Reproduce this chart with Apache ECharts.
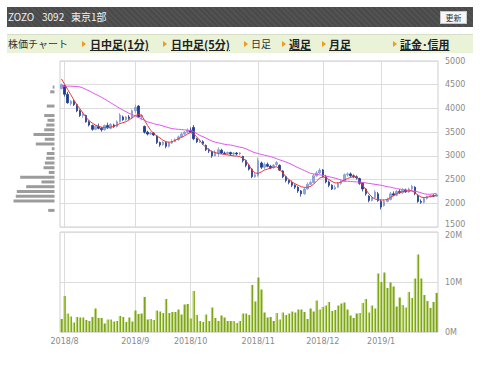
<!DOCTYPE html>
<html><head><meta charset="utf-8">
<script src="https://cdn.jsdelivr.net/npm/echarts@6/dist/echarts.min.js"></script>
<style>
html,body{margin:0;padding:0;background:#fff;width:480px;height:365px;overflow:hidden;font-family:'Noto Sans CJK JP','Noto Sans',sans-serif;}
#chart{position:absolute;left:0;top:0;width:480px;height:365px;}
.abs{position:absolute;white-space:nowrap;}
#hdr{left:7px;top:7px;width:466px;height:20px;background:repeating-linear-gradient(45deg,#4a4a4a 0,#4a4a4a 2px,#525252 2px,#525252 4px);}
.ht{color:#f2f2f2;font-size:10px;top:10px;line-height:14px;}
#btn{left:440px;top:11px;width:25px;height:11px;background:#f6f6f6;border:1px solid #c8c8c8;font-size:8px;line-height:11px;text-align:center;color:#333;}
#tab{left:7px;top:34px;width:466px;height:18px;background:#eaf3d8;border-top:1px solid #d6dfc6;}
.tt{top:35px;line-height:18px;font-size:10px;color:#333;}
.tl{font-weight:bold;font-size:11px;color:#222;text-decoration:underline;}
.tri{top:41px;width:0;height:0;border-left:4px solid #f29a1c;border-top:3px solid transparent;border-bottom:3px solid transparent;}
</style></head>
<body>
<div id="chart"></div>
<div id="hdr" class="abs"></div>
<div class="abs ht" style="left:8px">ZOZO</div>
<div class="abs ht" style="left:42px">3092</div>
<div class="abs ht" style="left:71px">東京1部</div>
<div id="btn" class="abs">更新</div>
<div id="tab" class="abs"></div>
<div class="abs tt" style="left:8px">株価チャート</div>
<div class="abs tri" style="left:82px"></div>
<div class="abs tt tl" style="left:90px">日中足(1分)</div>
<div class="abs tri" style="left:163px"></div>
<div class="abs tt tl" style="left:171px">日中足(5分)</div>
<div class="abs tri" style="left:244px"></div>
<div class="abs tt" style="left:251px">日足</div>
<div class="abs tri" style="left:282px"></div>
<div class="abs tt tl" style="left:289px">週足</div>
<div class="abs tri" style="left:322px"></div>
<div class="abs tt tl" style="left:329px">月足</div>
<div class="abs tri" style="left:393px"></div>
<div class="abs tt tl" style="left:400px">証金･信用</div>
<script>
const dates = [
'2018/07/31',
'2018/08/01','2018/08/02','2018/08/03','2018/08/06','2018/08/07','2018/08/08','2018/08/09','2018/08/10','2018/08/13','2018/08/14','2018/08/15','2018/08/16','2018/08/17','2018/08/20','2018/08/21','2018/08/22','2018/08/23','2018/08/24','2018/08/27','2018/08/28','2018/08/29','2018/08/30','2018/08/31',
'2018/09/03','2018/09/04','2018/09/05','2018/09/06','2018/09/07','2018/09/10','2018/09/11','2018/09/12','2018/09/13','2018/09/14','2018/09/18','2018/09/19','2018/09/20','2018/09/21','2018/09/25','2018/09/26','2018/09/27','2018/09/28',
'2018/10/01','2018/10/02','2018/10/03','2018/10/04','2018/10/05','2018/10/09','2018/10/10','2018/10/11','2018/10/12','2018/10/15','2018/10/16','2018/10/17','2018/10/18','2018/10/19','2018/10/22','2018/10/23','2018/10/24','2018/10/25','2018/10/26','2018/10/29','2018/10/30','2018/10/31',
'2018/11/01','2018/11/02','2018/11/05','2018/11/06','2018/11/07','2018/11/08','2018/11/09','2018/11/12','2018/11/13','2018/11/14','2018/11/15','2018/11/16','2018/11/19','2018/11/20','2018/11/21','2018/11/22','2018/11/26','2018/11/27','2018/11/28','2018/11/29','2018/11/30',
'2018/12/03','2018/12/04','2018/12/05','2018/12/06','2018/12/07','2018/12/10','2018/12/11','2018/12/12','2018/12/13','2018/12/14','2018/12/17','2018/12/18','2018/12/19','2018/12/20','2018/12/21','2018/12/25','2018/12/26','2018/12/27','2018/12/28',
'2019/01/04','2019/01/07','2019/01/08','2019/01/09','2019/01/10','2019/01/11','2019/01/15','2019/01/16','2019/01/17','2019/01/18','2019/01/21','2019/01/22','2019/01/23','2019/01/24','2019/01/25','2019/01/28','2019/01/29','2019/01/30','2019/01/31'
];
const opens = [
4420,4480,4300,4100,4150,4080,3950,3850,3850,3720,
3640,3560,3620,3580,3550,3640,3580,3650,3620,3720,
3820,3760,3820,3800,3950,4050,3820,3620,3500,3460,
3480,3420,3280,3240,3280,3200,3270,3300,3340,3400,
3460,3500,3540,3600,3360,3300,3300,3220,3130,3090,
3000,3060,3120,3060,3050,3070,3040,3060,3040,2990,
2900,2800,2720,2560,2580,2850,2760,2820,2780,2750,
2820,2800,2680,2560,2480,2440,2380,2340,2260,2200,
2300,2400,2440,2580,2640,2700,2560,2450,2380,2300,
2340,2420,2460,2600,2620,2580,2560,2520,2420,2300,
2150,2060,2120,2200,2040,1950,2040,2080,2200,2170,
2250,2220,2280,2240,2300,2340,2160,2040,2020,2100,
2140,2160,2150];
const closes = [
4500,4300,4120,4150,4080,3950,3850,3880,3720,3650,
3560,3620,3580,3550,3640,3590,3660,3620,3720,3860,
3760,3820,3790,3950,4020,3820,3850,3500,3460,3480,
3440,3280,3230,3290,3200,3270,3300,3340,3400,3460,
3500,3540,3500,3360,3300,3320,3260,3130,3100,3000,
3080,3130,3060,3050,3070,3040,3060,3040,3060,2900,
2800,2720,2560,2600,2900,2760,2820,2780,2750,2800,
2860,2700,2560,2480,2440,2380,2340,2260,2200,2300,
2400,2440,2580,2640,2700,2560,2450,2380,2300,2340,
2420,2460,2600,2620,2580,2560,2540,2420,2300,2200,
2060,2120,2240,2060,1920,2040,2080,2200,2170,2250,
2220,2290,2240,2300,2360,2200,2040,2020,2100,2140,
2160,2150,2180];
const lows = [
4400,4250,4100,4060,4050,3920,3820,3800,3700,3620,
3530,3540,3560,3510,3530,3570,3560,3590,3600,3700,
3740,3740,3760,3790,3900,3800,3750,3470,3430,3440,
3420,3250,3190,3210,3160,3180,3250,3290,3320,3380,
3430,3470,3480,3330,3270,3270,3230,3100,3060,2960,
2990,2980,3040,3030,3020,3000,2990,3010,3010,2860,
2760,2690,2530,2540,2560,2720,2720,2760,2720,2730,
2780,2680,2530,2440,2400,2340,2300,2220,2140,2180,
2290,2380,2420,2560,2620,2540,2420,2340,2280,2280,
2320,2390,2450,2560,2550,2530,2500,2390,2250,2160,
2020,2040,2100,2030,1870,1930,2020,2060,2150,2150,
2200,2200,2220,2220,2280,2170,2010,1990,2000,2080,
2120,2130,2140];
const highs = [
4520,4500,4350,4180,4180,4100,3980,3920,3870,3750,
3660,3650,3680,3610,3660,3700,3690,3680,3750,3900,
3850,3840,3860,3980,4080,4070,3880,3640,3530,3510,
3500,3430,3300,3310,3300,3300,3350,3370,3430,3500,
3520,3580,3600,3650,3380,3350,3330,3240,3160,3110,
3120,3180,3150,3090,3090,3090,3080,3080,3080,3000,
2920,2830,2740,2650,2960,2880,2860,2860,2810,2830,
2890,2820,2700,2580,2500,2480,2400,2360,2280,2330,
2440,2480,2620,2680,2740,2720,2600,2480,2400,2380,
2450,2500,2630,2650,2650,2610,2590,2540,2440,2320,
2170,2160,2280,2240,2080,2080,2120,2240,2250,2280,
2300,2320,2310,2330,2390,2360,2180,2080,2120,2160,
2180,2190,2200];
const maShort = [
4620,4510,4400,4290,4180,4075,3990,3900,3810,3740,
3690,3650,3625,3605,3595,3595,3605,3620,3650,3680,
3700,3720,3760,3800,3850,3870,3860,3750,3640,3540,
3470,3420,3380,3330,3300,3285,3300,3330,3360,3390,
3420,3460,3490,3460,3400,3320,3240,3180,3120,3090,
3070,3050,3040,3030,3020,3010,3000,2995,2985,2950,
2900,2800,2700,2640,2630,2660,2700,2720,2740,2760,
2770,2720,2640,2560,2500,2450,2410,2380,2350,2335,
2340,2355,2400,2470,2530,2560,2540,2500,2460,2430,
2430,2450,2490,2520,2545,2560,2550,2480,2380,2290,
2200,2130,2090,2075,2070,2070,2080,2120,2160,2200,
2230,2245,2255,2260,2265,2220,2175,2130,2120,2130,
2140,2155,2170];
const maLong = [
4470,4470,4470,4470,4465,4460,4455,4430,4400,4370,
4335,4300,4270,4235,4200,4160,4120,4080,4040,4000,
3965,3930,3895,3870,3840,3810,3780,3750,3715,3700,
3680,3660,3650,3630,3610,3590,3575,3565,3560,3555,
3548,3542,3530,3510,3470,3430,3405,3375,3340,3310,
3290,3275,3260,3245,3235,3228,3215,3200,3185,3172,
3150,3120,3090,3065,3050,3030,3015,3000,2985,2965,
2940,2915,2895,2870,2845,2815,2780,2750,2720,2690,
2660,2630,2620,2610,2600,2590,2575,2560,2545,2530,
2510,2490,2470,2465,2460,2455,2450,2445,2440,2430,
2420,2410,2400,2390,2380,2365,2350,2340,2325,2310,
2300,2290,2280,2270,2260,2255,2240,2220,2200,2190,
2190,2200,2210];
const volumes = [
2.6,7.2,3.7,3.1,1.9,3.0,2.9,2.9,2.4,2.2,3.0,4.7,2.8,2.8,1.7,2.5,2.5,2.1,2.2,3.2,3.0,2.0,2.9,2.1,
4.3,3.6,3.7,7.0,2.5,2.6,2.4,4.3,4.1,3.8,6.6,3.8,4.0,4.0,4.5,3.5,5.5,5.6,
2.7,8.2,3.4,2.2,2.0,3.5,2.2,4.9,2.8,2.2,3.3,2.9,2.2,2.2,2.2,1.8,2.2,3.7,3.7,3.4,9.4,6.1,
10.9,8.5,3.9,2.9,3.0,2.2,3.8,2.5,3.9,3.4,3.7,4.1,3.9,4.5,4.5,4.0,2.6,4.7,4.1,6.3,4.5,
5.0,5.3,6.0,4.2,4.4,5.3,5.7,5.9,4.5,3.3,2.8,3.7,3.8,5.8,6.6,3.9,5.3,4.7,11.7,
10.0,11.9,8.8,9.9,9.1,5.1,6.9,5.4,4.9,8.0,6.8,10.7,15.5,10.7,7.4,6.2,4.8,6.0,7.8];
const priceBins = [
'1500-1600','1600-1700','1700-1800','1800-1900','1900-2000','2000-2100','2100-2200','2200-2300','2300-2400','2400-2500',
'2500-2600','2600-2700','2700-2800','2800-2900','2900-3000','3000-3100','3100-3200','3200-3300','3300-3400','3400-3500',
'3500-3600','3600-3700','3700-3800','3800-3900','3900-4000','4000-4100','4100-4200','4200-4300','4300-4400','4400-4500',
'4500-4600','4600-4700','4700-4800','4800-4900','4900-5000'];
const binVolumes = [
0,0,0,6.3,0,41,38.7,37.7,28.3,13,
34.3,5.7,11,9.7,8.3,7.7,2.7,18.7,9.7,21,
10.3,8.3,7,10.3,0,7.7,0,0,4.3,1.8,
0,0,0,0,0];
const priceTicks = {min:1500, max:5000, interval:500};
const volumeTicks = {min:0, max:20, interval:10};

const candles = dates.map((d,i)=>[opens[i],closes[i],lows[i],highs[i]]);
const isMonthStart = (idx) => idx > 0 && dates[idx].slice(0,7) !== dates[idx-1].slice(0,7);
const monthLabel = (v) => { const p = v.split('/'); return p[0] + '/' + (+p[1]); };
const gridLineColor = '#dcdcdc';
const labelFont = {color:'#8a8a8a', fontSize:8, fontFamily:'DejaVu Sans'};

const chart = echarts.init(document.getElementById('chart'), null, {renderer:'svg'});
chart.setOption({
  animation:false,
  grid:[
    {left:60, top:61, width:378, height:166, show:true, borderColor:'#cfcfcf', borderWidth:1, containLabel:false, outerBoundsMode:'none'},
    {left:60, top:232, width:378, height:100, show:true, borderColor:'#cfcfcf', borderWidth:1, containLabel:false, outerBoundsMode:'none'},
    {left:0, top:61, width:54.5, height:166, show:false, containLabel:false, outerBoundsMode:'none'}
  ],
  xAxis:[
    {type:'category', gridIndex:0, data:dates, boundaryGap:true,
     axisLine:{show:false}, axisTick:{show:false}, axisLabel:{show:false},
     splitLine:{show:true, interval:(i)=>isMonthStart(i), alignWithLabel:true, lineStyle:{color:gridLineColor,width:1}}},
    {type:'category', gridIndex:1, data:dates, boundaryGap:true,
     axisLine:{show:false}, axisTick:{show:false},
     axisLabel:Object.assign({show:true, interval:(i)=>isMonthStart(i), formatter:monthLabel, margin:5, hideOverlap:false}, labelFont),
     splitLine:{show:true, interval:(i)=>isMonthStart(i), alignWithLabel:true, lineStyle:{color:gridLineColor,width:1}}},
    {type:'value', gridIndex:2, min:0, max:54.5, inverse:true, show:false}
  ],
  yAxis:[
    {type:'value', gridIndex:0, position:'right', min:priceTicks.min, max:priceTicks.max, interval:priceTicks.interval,
     axisLine:{show:false}, axisTick:{show:false},
     axisLabel:Object.assign({margin:7, hideOverlap:false,
       formatter:(v)=> v === priceTicks.min ? '{lo|' + v + '}' : String(v),
       rich:{lo:{color:'#8a8a8a', fontSize:8, fontFamily:'DejaVu Sans', padding:[0,0,6,0]}}}, labelFont),
     splitLine:{show:true, lineStyle:{color:gridLineColor}}},
    {type:'value', gridIndex:1, position:'right', min:volumeTicks.min, max:volumeTicks.max, interval:volumeTicks.interval,
     axisLine:{show:false}, axisTick:{show:false},
     axisLabel:Object.assign({margin:7, hideOverlap:false,
       formatter:(v)=> v === volumeTicks.max ? '{hi|' + v + 'M}' : v + 'M',
       rich:{hi:{color:'#8a8a8a', fontSize:8, fontFamily:'DejaVu Sans', padding:[6,0,0,0]}}}, labelFont),
     splitLine:{show:true, lineStyle:{color:gridLineColor}}},
    {type:'category', gridIndex:2, data:priceBins, boundaryGap:true, show:false}
  ],
  series:[
    {type:'bar', xAxisIndex:2, yAxisIndex:2, data:binVolumes, barWidth:3, itemStyle:{color:'#9c9c9c'}, silent:true},
    {type:'candlestick', xAxisIndex:0, yAxisIndex:0, data:candles, barWidth:2,
     itemStyle:{color:'#92a9dc', color0:'#1d3b8e', borderColor:'#7f97cf', borderColor0:'#1d3b8e', borderWidth:0.8}},
    {type:'line', xAxisIndex:0, yAxisIndex:0, data:maLong, showSymbol:false, symbol:'none',
     lineStyle:{color:'#e055f0', width:1}, z:3},
    {type:'line', xAxisIndex:0, yAxisIndex:0, data:maShort, showSymbol:false, symbol:'none',
     lineStyle:{color:'#e8373c', width:1}, z:4},
    {type:'bar', xAxisIndex:1, yAxisIndex:1, data:volumes, barWidth:2.4,
     itemStyle:{color:new echarts.graphic.LinearGradient(0,0,1,0,[{offset:0,color:'#b4d263'},{offset:0.45,color:'#b4d263'},{offset:0.46,color:'#7ea31c'},{offset:1,color:'#7ea31c'}])}}
  ]
});
</script>
</body></html>
